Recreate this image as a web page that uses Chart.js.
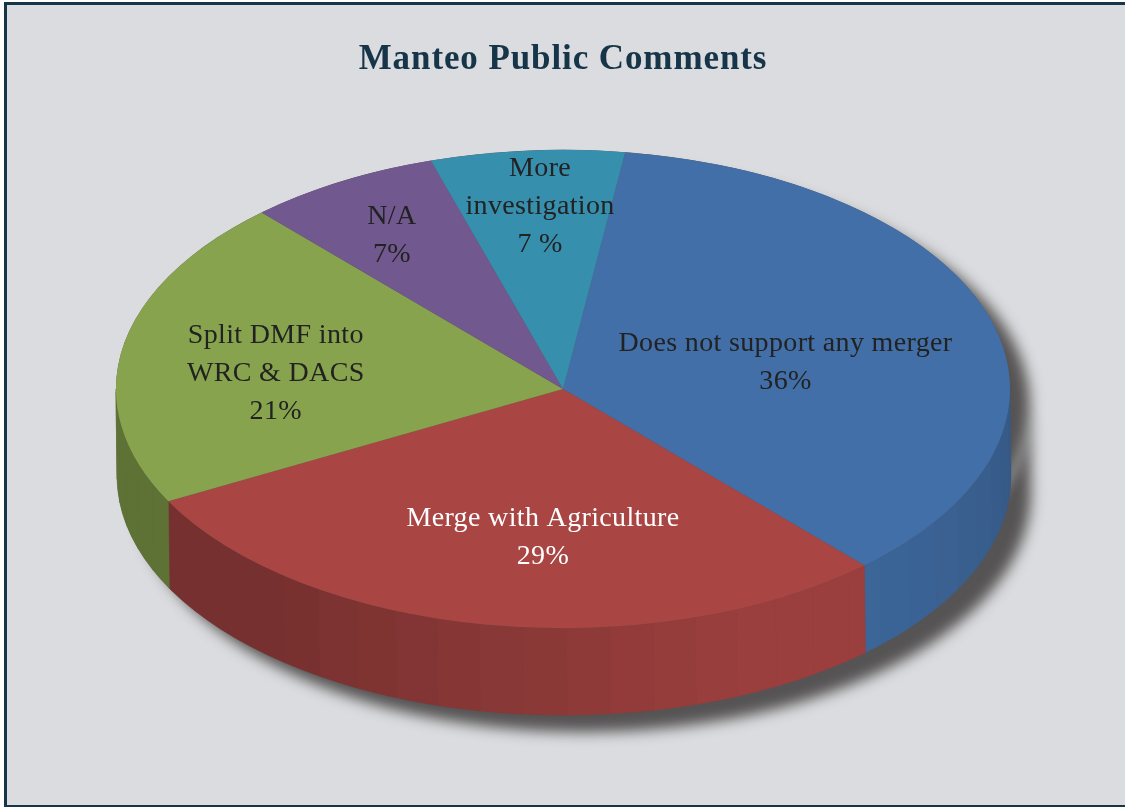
<!DOCTYPE html>
<html>
<head>
<meta charset="utf-8">
<title>Manteo Public Comments</title>
<script src="https://cdn.jsdelivr.net/npm/chart.js@4"></script>
<style>
    html, body { margin: 0; padding: 0; background: #fff; overflow: hidden; }
    #frame {
        position: absolute; left: 4px; top: 2px; width: 1140px; height: 800px;
        background: #dbdcdf; border: 3px solid #173549;
    }
    #pieChart { position: absolute; left: 0; top: 0; }
</style>
</head>
<body>
<div id="frame"></div>
<canvas id="pieChart" width="1125" height="807"></canvas>
<script>
    var categories = [
        ["Does not support any merger"],
        ["Merge with Agriculture"],
        ["Split DMF into", "WRC & DACS"],
        ["N/A"],
        ["More", "investigation"]
    ];
    var commentShares = [36, 29, 21, 7, 7];
    var shareLabels = ["36%", "29%", "21%", "7%", "7 %"];
    var sliceColors = ["#426fa7", "#a94543", "#87a34d", "#71588f", "#378fae"];
    var labelColors = ["#222222", "#ffffff", "#222222", "#222222", "#222222"];

    // nudge from the middle of each slice, in px
    var labelShifts = [[9, 9], [18, 31], [-67, 5], [-60, -50], [-5, -63]];

    var squash = 0.535;     // top face height / width
    var depth = 87;         // height of the side wall
    var facetStep = 5.6 * Math.PI / 180;
    var lineHeight = 38;

    // how dark the wall gets going round the front, t in degrees
    function wallShade(t) {
        if (t < 47) return 0.8 + 0.11 * t / 47;
        if (t < 66) return 0.91;
        if (t < 128) return 0.91 - 0.2 * (t - 66) / 62;
        return 0.7;
    }

    function shadeColor(hex, k) {
        var n = parseInt(hex.slice(1), 16);
        return "rgb(" + Math.round((n >> 16 & 255) * k) + "," +
            Math.round((n >> 8 & 255) * k) + "," + Math.round((n & 255) * k) + ")";
    }

    function ringPath(ctx, x, y, r, a0, a1) {
        ctx.beginPath();
        ctx.ellipse(x, y, r, r * squash, 0, a0, a1);
        ctx.ellipse(x + 1, y + depth, r, r * squash, 0, a1, a0, true);
        ctx.closePath();
    }

    function drawWall(ctx, arc, color) {
        // only the part of the rim that faces the viewer
        [0, 2 * Math.PI].forEach(function (base) {
            var from = Math.max(arc.startAngle, base);
            var to = Math.min(arc.endAngle, base + Math.PI);
            var a = from;
            while (a < to) {
                var rel = a - base;
                var next = Math.min(to, base + (Math.floor(rel / facetStep + 1e-6) + 1) * facetStep);
                var mid = (a + next) / 2 - base;
                ctx.fillStyle = ctx.strokeStyle = shadeColor(color, wallShade(mid * 180 / Math.PI));
                ctx.lineWidth = 0.5;
                ringPath(ctx, arc.x, arc.y, arc.outerRadius, a, next);
                ctx.fill();
                ctx.stroke();
                a = next;
            }
        });
    }

    var pie3d = {
        id: "pie3d",
        beforeDraw: function (chart) {
            chart.ctx.letterSpacing = "0.9px";
        },
        beforeDatasetsDraw: function (chart) {
            var ctx = chart.ctx;
            var arcs = chart.getDatasetMeta(0).data;
            var first = arcs[0];

            // drop shadow under the whole drum
            ctx.save();
            ctx.shadowColor = "#555353";
            ctx.shadowBlur = 14;
            ctx.shadowOffsetX = 20;
            ctx.shadowOffsetY = 17;
            ctx.fillStyle = "#555353";
            ringPath(ctx, first.x, first.y, first.outerRadius, 0, Math.PI);
            ctx.fill();
            ctx.beginPath();
            ctx.ellipse(first.x, first.y, first.outerRadius, first.outerRadius * squash, 0, 0, 2 * Math.PI);
            ctx.fill();
            ctx.restore();

            ctx.save();
            arcs.forEach(function (arc, i) {
                drawWall(ctx, arc, sliceColors[i]);
            });
            ctx.restore();
        },
        beforeDatasetDraw: function (chart) {
            var ctx = chart.ctx;
            var arc = chart.getDatasetMeta(0).data[0];
            ctx.save();
            ctx.translate(arc.x, arc.y);
            ctx.scale(1, squash);
            ctx.translate(-arc.x, -arc.y);
        },
        afterDatasetDraw: function (chart) {
            chart.ctx.restore();
        },
        afterDatasetsDraw: function (chart) {
            var ctx = chart.ctx;
            ctx.save();
            ctx.font = "28px 'Liberation Serif'";
            ctx.letterSpacing = "0.35px";
            ctx.textAlign = "center";
            ctx.textBaseline = "middle";
            chart.getDatasetMeta(0).data.forEach(function (arc, i) {
                var mid = (arc.startAngle + arc.endAngle) / 2;
                var x = arc.x + arc.outerRadius * 0.5 * Math.cos(mid) + labelShifts[i][0];
                var y = arc.y + arc.outerRadius * 0.5 * squash * Math.sin(mid) + labelShifts[i][1];
                var lines = categories[i].concat(shareLabels[i]);
                var top = y - (lines.length - 1) * lineHeight / 2;
                ctx.fillStyle = labelColors[i];
                lines.forEach(function (line, n) {
                    ctx.fillText(line, x, top + n * lineHeight);
                });
            });
            ctx.restore();
        }
    };

    new Chart(document.getElementById("pieChart"), {
        type: "pie",
        data: {
            labels: categories,
            datasets: [{
                data: commentShares,
                backgroundColor: sliceColors,
                borderWidth: 0,
                clip: false
            }]
        },
        options: {
            responsive: false,
            animation: false,
            rotation: 8,
            radius: 447,
            layout: { padding: { left: 1, bottom: 110 } },
            plugins: {
                legend: { display: false },
                tooltip: { enabled: false },
                title: {
                    display: true,
                    text: "Manteo Public Comments",
                    color: "#173549",
                    font: { family: "'Liberation Serif'", size: 35, weight: "bold" },
                    padding: { top: 39, bottom: 0 }
                }
            }
        },
        plugins: [pie3d]
    });
</script>
</body>
</html>
